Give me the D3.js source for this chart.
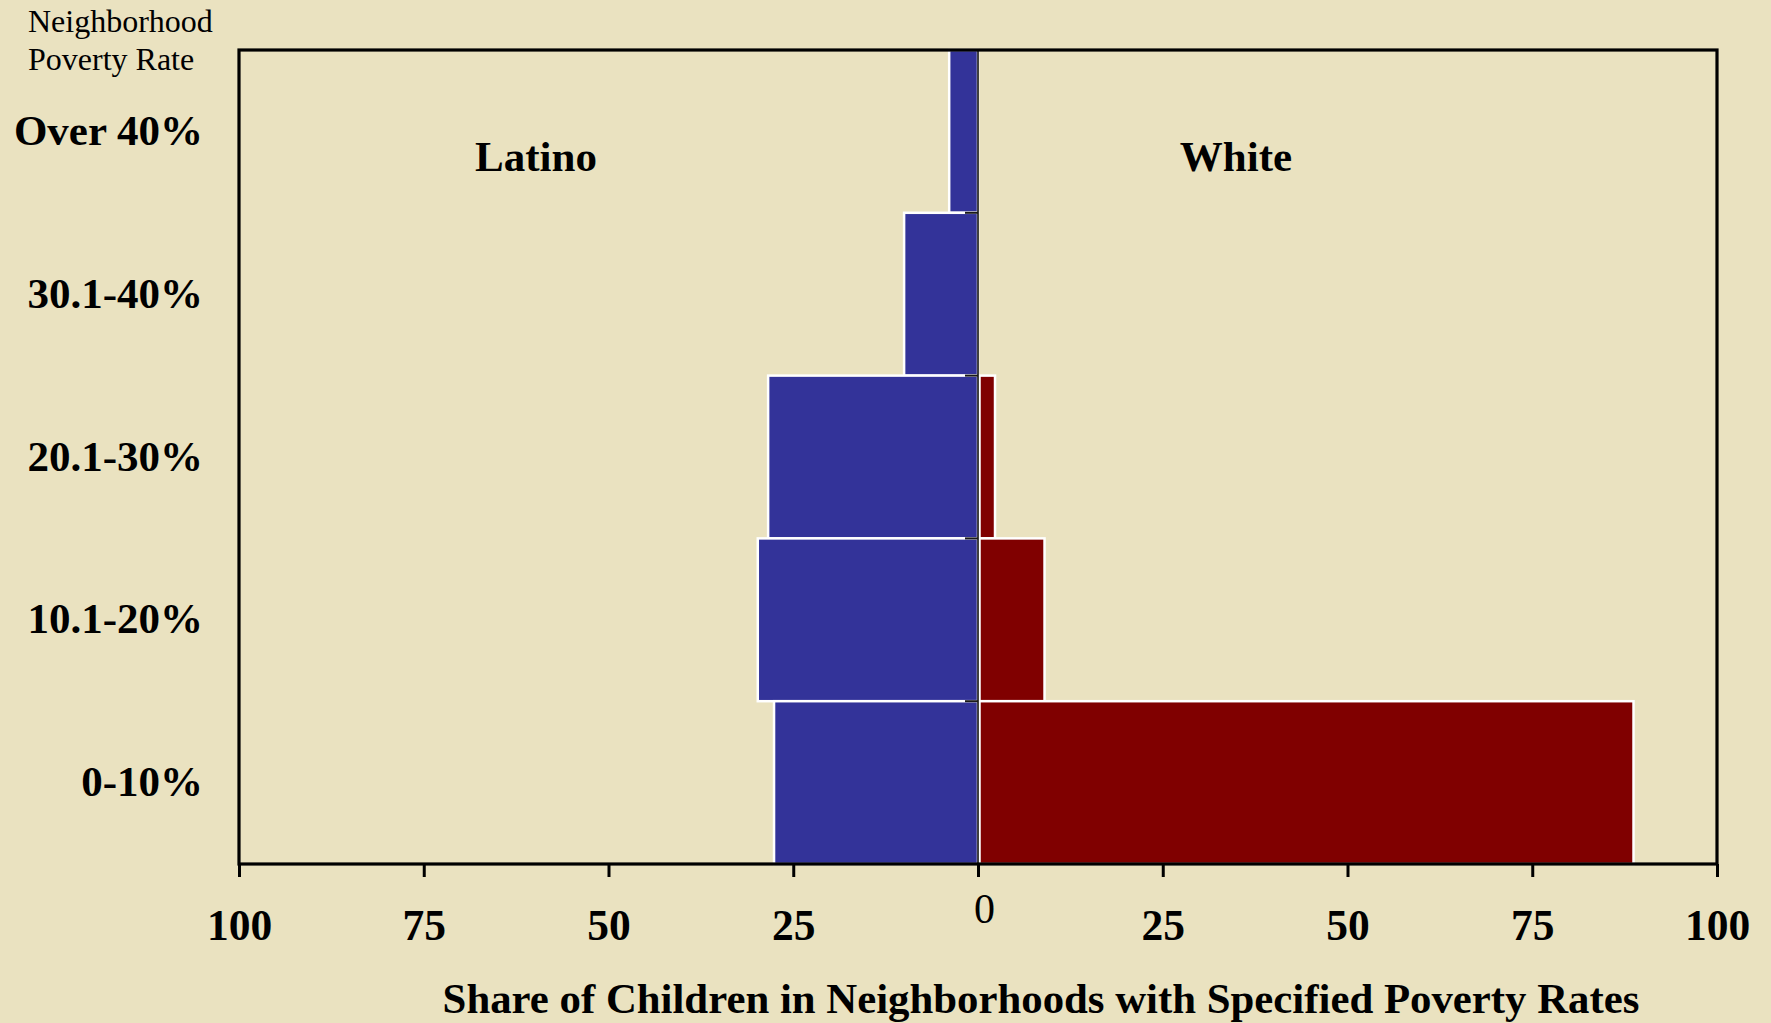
<!DOCTYPE html>
<html>
<head>
<meta charset="utf-8">
<script src="https://cdn.jsdelivr.net/npm/d3@7"></script>
<style>
  html, body { margin: 0; padding: 0; background: #EAE2C0; }
  svg { display: block; }
  text { font-family: "Liberation Serif", "Times New Roman", serif; fill: #000; }
</style>
</head>
<body>
<svg id="chart" width="1771" height="1023"></svg>
<script>
// Neighborhood poverty bands, top to bottom
const categories = ["Over 40%", "30.1-40%", "20.1-30%", "10.1-20%", "0-10%"];
// Share of children (%) living in each band
const latinoValues = [3.9, 10.0, 28.4, 29.8, 27.6];
const whiteValues  = [0, 0, 2.1, 8.8, 88.5];
// Axis ticks (signed: Latino to the left, White to the right)
const tickValues = [-100, -75, -50, -25, 0, 25, 50, 75, 100];

const svg = d3.select("#chart");
const W = 1771, H = 1023;
const plot = { left: 239, right: 1717, top: 50, bottom: 864 };

svg.append("rect").attr("width", W).attr("height", H).attr("fill", "#EAE2C0");

const x = d3.scaleLinear().domain([-100, 100]).range([plot.left, plot.right]);
const y = d3.scaleBand().domain(categories).range([plot.top, plot.bottom]).padding(0);
const labelY = d3.scalePoint().domain(categories).range([145, 796]);

const rows = categories.map((c, i) => ({ cat: c, latino: latinoValues[i], white: whiteValues[i] }));

// White bars (right side)
svg.append("g").selectAll("rect").data(rows).join("rect")
  .attr("x", d => x(0) + 1.5)
  .attr("y", d => y(d.cat))
  .attr("width", d => x(d.white) - x(0))
  .attr("height", y.bandwidth())
  .attr("fill", "#800000")
  .attr("stroke", "#ffffff")
  .attr("stroke-width", 2.5);

// Latino bars (left side)
svg.append("g").selectAll("rect").data(rows).join("rect")
  .attr("x", d => x(-d.latino))
  .attr("y", d => y(d.cat))
  .attr("width", d => x(0) - x(-d.latino))
  .attr("height", y.bandwidth())
  .attr("fill", "#333399")
  .attr("stroke", "#ffffff")
  .attr("stroke-width", 2.5);

// Centre axis with small ticks at band boundaries
svg.append("line")
  .attr("x1", x(0)).attr("x2", x(0))
  .attr("y1", plot.top).attr("y2", plot.bottom)
  .attr("stroke", "#000").attr("stroke-width", 1.5);
svg.append("g").selectAll("line").data(categories.slice(1)).join("line")
  .attr("x1", x(0) - 13).attr("x2", x(0))
  .attr("y1", d => y(d)).attr("y2", d => y(d))
  .attr("stroke", "#1a1a1a").attr("stroke-width", 2);

// Plot frame
svg.append("rect")
  .attr("x", plot.left).attr("y", plot.top)
  .attr("width", plot.right - plot.left).attr("height", plot.bottom - plot.top)
  .attr("fill", "none").attr("stroke", "#000").attr("stroke-width", 3.2);

// Bottom axis
const xAxis = d3.axisBottom(x)
  .tickValues(tickValues)
  .tickSize(13)
  .tickPadding(0)
  .tickFormat(d => String(Math.abs(d)));
const gx = svg.append("g").attr("transform", `translate(0,${plot.bottom})`).call(xAxis);
gx.select(".domain").remove();
gx.selectAll(".tick line").attr("stroke", "#000").attr("stroke-width", 3);
gx.selectAll(".tick text")
  .attr("y", 76)
  .attr("dy", 0)
  .attr("font-size", 43.5)
  .attr("font-weight", "bold")
  .attr("font-family", "'Liberation Serif', 'Times New Roman', serif")
  .attr("fill", "#000");
gx.selectAll(".tick").filter(d => d === 0).select("text")
  .attr("font-weight", "normal")
  .attr("font-size", 42)
  .attr("y", 59)
  .attr("dx", 6);

// Category labels
svg.append("g").selectAll("text").data(categories).join("text")
  .attr("x", 203)
  .attr("y", d => labelY(d))
  .attr("text-anchor", "end")
  .attr("font-size", 43)
  .attr("font-weight", "bold")
  .text(d => d);

// Axis heading for categories
svg.append("text").attr("x", 28).attr("y", 32).attr("font-size", 32).text("Neighborhood");
svg.append("text").attr("x", 28).attr("y", 70).attr("font-size", 32).text("Poverty Rate");

// Group labels
svg.append("text").attr("x", 536).attr("y", 171).attr("text-anchor", "middle")
  .attr("font-size", 43).attr("font-weight", "bold").text("Latino");
svg.append("text").attr("x", 1236).attr("y", 171).attr("text-anchor", "middle")
  .attr("font-size", 43).attr("font-weight", "bold").text("White");

// X axis title
svg.append("text").attr("x", 1041).attr("y", 1013).attr("text-anchor", "middle")
  .attr("font-size", 42.8).attr("font-weight", "bold")
  .text("Share of Children in Neighborhoods with Specified Poverty Rates");
</script>
</body>
</html>
